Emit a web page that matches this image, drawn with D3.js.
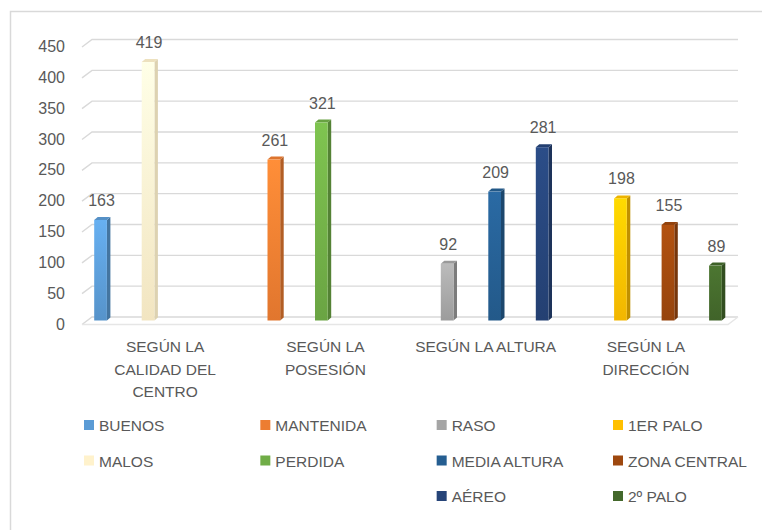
<!DOCTYPE html>
<html>
<head>
<meta charset="utf-8">
<script src="https://cdn.jsdelivr.net/npm/d3@7"></script>
<style>
  body { margin: 0; background: #fff; }
  svg { display: block; font-family: "Liberation Sans", Arial, sans-serif; }
</style>
</head>
<body>
<svg id="chart" width="762" height="530"></svg>
<script>
// categories (x axis) and their wrapped tick labels
const categories = ["CALIDAD", "POSESION", "ALTURA", "DIRECCION"];
const categoryLines = [
  ["SEGÚN LA", "CALIDAD DEL", "CENTRO"],
  ["SEGÚN LA", "POSESIÓN"],
  ["SEGÚN LA ALTURA"],
  ["SEGÚN LA", "DIRECCIÓN"]
];

// one series per bar; each belongs to one category
const seriesNames = ["BUENOS", "MALOS", "MANTENIDA", "PERDIDA", "RASO",
  "MEDIA ALTURA", "AÉREO", "1ER PALO", "ZONA CENTRAL", "2º PALO"];
const seriesCategory = [0, 0, 1, 1, 2, 2, 2, 3, 3, 3];
const seriesValues = [163, 419, 261, 321, 92, 209, 281, 198, 155, 89];
const seriesColors = ["#5B9BD5", "#FFF2CC", "#ED7D31", "#70AD47", "#A5A5A5",
  "#255E91", "#264478", "#FFC000", "#9E480E", "#43682B"];

const yTicks = [0, 50, 100, 150, 200, 250, 300, 350, 400, 450];

const W = 762, H = 530;
const textColor = "#595959";
const gridColor = "#d9d9d9";
const depthX = 10, depthUp = 7.5;   // gridline wall offset
const barW = 12.7, barDx = 3.5, barDy = 3;

const svg = d3.select("#chart");
const defs = svg.append("defs");

// slot index of each series inside its category
const bars = seriesNames.map((name, i) => {
  const cat = seriesCategory[i];
  const slot = seriesCategory.slice(0, i).filter(c => c === cat).length;
  return { name, i, cat, slot, value: seriesValues[i], color: seriesColors[i] };
});

// scales
const y = d3.scaleLinear().domain([0, 450]).range([320.5, 43]);
const xGroup = d3.scaleBand().domain(d3.range(categories.length)).range([61.4, 754.6]);
const xSlot = d3.scalePoint().domain([0, 1, 2]).range([-47.5, 47.5]);
const xLabel = d3.scaleBand().domain(d3.range(categories.length)).range([85, 726]);
const legendCol = d3.scalePoint().domain(d3.range(categories.length)).range([84, 613]);
const legendRow = d3.scalePoint().domain([0, 1, 2]).range([425, 496]);

// chart border
svg.append("rect")
  .attr("x", 10.5).attr("y", 11.5)
  .attr("width", 800).attr("height", 600)
  .attr("fill", "none").attr("stroke", gridColor).attr("stroke-width", 1.5);

// gridlines, drawn like a back wall with a short floor edge
const grid = svg.append("g").attr("fill", "none").attr("stroke", gridColor).attr("stroke-width", 1.4);
yTicks.forEach(t => {
  const yf = y(t) + 4, yb = yf - depthUp;
  grid.append("path")
    .attr("d", `M82,${yf}L${82 + depthX},${yb}L738,${yb}`);
});
// floor front edge
grid.append("path")
  .attr("stroke", "#e6e6e6")
  .attr("d", `M82,${y(0) + 4}L728,${y(0) + 4}L738,${y(0) + 4 - depthUp}`);

// y tick labels
svg.append("g").selectAll("text")
  .data(yTicks).join("text")
  .attr("x", 65).attr("y", d => y(d) + 9)
  .attr("text-anchor", "end")
  .attr("font-size", 16).attr("fill", textColor)
  .text(d => d);

// gradients
bars.forEach(b => {
  const g = defs.append("linearGradient")
    .attr("id", "grad" + b.i).attr("x1", 0).attr("y1", 0).attr("x2", 0).attr("y2", 1);
  g.append("stop").attr("offset", "0%").attr("stop-color", d3.color(b.color).brighter(0.35));
  g.append("stop").attr("offset", "100%").attr("stop-color", d3.color(b.color).darker(0.15));
});

// bars (front, side, top)
const barG = svg.append("g").selectAll("g")
  .data(bars).join("g");

barG.each(function (b) {
  const g = d3.select(this);
  const xl = xGroup(b.cat) + xGroup.bandwidth() / 2 + xSlot(b.slot) - barW / 2;
  const xr = xl + barW;
  const yt = y(b.value), yb = y(0);
  g.append("path")
    .attr("fill", d3.color(b.color).darker(b.i === 1 ? 0.4 : 0.8))
    .attr("d", `M${xr},${yt}L${xr + barDx},${yt - barDy}L${xr + barDx},${yb - barDy}L${xr},${yb}Z`);
  g.append("path")
    .attr("fill", d3.color(b.color).darker(0.2))
    .attr("d", `M${xl},${yt}L${xl + barDx},${yt - barDy}L${xr + barDx},${yt - barDy}L${xr},${yt}Z`);
  g.append("rect")
    .attr("x", xl).attr("y", yt)
    .attr("width", barW).attr("height", yb - yt)
    .attr("fill", `url(#grad${b.i})`);
  g.append("text")
    .attr("x", (xl + xr) / 2 + 1).attr("y", yt - 14)
    .attr("text-anchor", "middle")
    .attr("font-size", 16).attr("fill", textColor)
    .text(b.value);
});

// category labels
const catG = svg.append("g").selectAll("text")
  .data(categoryLines).join("text")
  .attr("text-anchor", "middle")
  .attr("font-size", 15.5).attr("fill", textColor);
catG.each(function (lines, i) {
  d3.select(this).selectAll("tspan")
    .data(lines).join("tspan")
    .attr("x", xLabel(i) + xLabel.bandwidth() / 2)
    .attr("y", (d, j) => 352 + j * 22.5)
    .text(d => d);
});

// legend
const leg = svg.append("g").selectAll("g")
  .data(bars).join("g")
  .attr("transform", b => `translate(${legendCol(b.cat)},${legendRow(b.slot)})`);
leg.append("rect")
  .attr("x", 0).attr("y", -5).attr("width", 10).attr("height", 10)
  .attr("fill", b => b.color);
leg.append("text")
  .attr("x", 15).attr("y", 6)
  .attr("font-size", 15.5).attr("fill", textColor)
  .text(b => b.name);
</script>
</body>
</html>
